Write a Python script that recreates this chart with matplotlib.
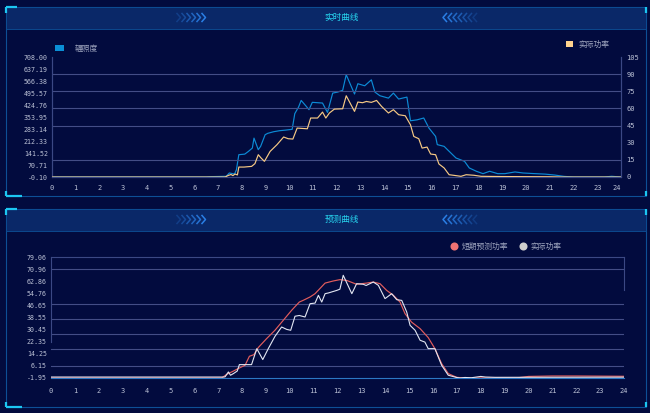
import matplotlib
matplotlib.use('Agg')
import matplotlib.pyplot as plt
from matplotlib.patches import Rectangle, Patch
from matplotlib.lines import Line2D

plt.rcParams['font.family'] = ['Noto Sans CJK SC', 'DejaVu Sans']

# ---------------- data ----------------
hours = list(range(25))

irr_t = [0, 6.5, 6.7, 7.35, 7.48, 7.7, 7.78, 7.88, 8.13, 8.28,
         8.45, 8.52, 8.7, 8.8, 8.99, 9.1, 9.35, 9.6, 9.85, 10.13,
         10.24, 10.4, 10.51, 10.7, 10.84, 10.98, 11.41, 11.62, 11.84, 12.05,
         12.26, 12.41, 12.76, 12.9, 13.19, 13.47, 13.62, 13.83, 14.19, 14.4,
         14.62, 14.97, 15.12, 15.4, 15.68, 15.9, 16.18, 16.25, 16.54, 16.68,
         17.04, 17.4, 17.6, 17.9, 18.18, 18.46, 18.8, 19.1, 19.53, 19.87,
         20.3, 20.8, 21.2, 21.6, 22.0, 23.3, 23.6, 23.8, 24.0]
irr_v = [0, 0, 2.0, 4.0, 23.6, 17.5, 43.2, 131.5, 134.9, 150.4,
         170.6, 229.3, 161.2, 180.7, 249.5, 257.6, 267.1, 273.1, 276.5, 281.2,
         373.6, 412.7, 451.8, 420.8, 397.2, 440.4, 436.3, 381.0, 495.0, 501.1,
         511.2, 603.6, 489.6, 550.3, 538.2, 573.2, 501.1, 479.5, 465.3, 495.0,
         459.9, 471.4, 331.8, 337.2, 348.0, 288.6, 239.4, 190.9, 180.7, 161.2,
         112.0, 92.4, 53.3, 33.7, 19.6, 33.7, 19.6, 19.6, 29.7, 23.6,
         20.2, 16.9, 11.5, 3.4, 0, 0, 4.0, 2.0, 0]

pow_t = [0, 7.3, 7.42, 7.55, 7.63, 7.72, 7.82, 7.88, 8.1, 8.42,
         8.56, 8.7, 8.82, 8.96, 9.2, 9.49, 9.77, 9.96, 10.16, 10.34,
         10.77, 10.91, 11.2, 11.41, 11.55, 11.7, 11.91, 12.26, 12.41, 12.76,
         12.9, 13.1, 13.26, 13.47, 13.69, 13.9, 14.19, 14.4, 14.62, 14.9,
         15.12, 15.26, 15.47, 15.61, 15.82, 15.97, 16.18, 16.32, 16.54, 16.75,
         17.04, 17.25, 17.47, 17.8, 18.1, 19.0, 20.0, 21.0, 21.5, 24.0]
pow_v = [0, 0, 1.2, 2.2, 1.2, 2.6, 1.8, 8.7, 8.7, 9.3,
         11.7, 19.5, 16.6, 13.7, 22.4, 28.3, 35.0, 33.5, 33.2, 42.8,
         42.2, 51.6, 51.6, 56.8, 51.6, 56.0, 59.4, 59.7, 71.1, 57.4,
         65.6, 65.0, 66.1, 65.3, 67.0, 61.8, 56.0, 58.9, 54.5, 53.6,
         45.7, 35.5, 33.5, 25.3, 26.2, 20.1, 19.5, 11.4, 7.9, 2.0,
         1.2, 0.6, 2.0, 1.5, 0.6, 0.4, 0.3, 0.2, 0, 0]

pred_t = [0, 7.15, 7.36, 7.64, 7.92, 8.13, 8.31, 8.5, 8.68, 9.03,
          9.38, 9.73, 10.08, 10.4, 10.57, 10.85, 11.06, 11.48, 11.82, 12.1,
          12.38, 12.8, 13.22, 13.5, 13.78, 14.06, 14.34, 14.62, 14.83, 15.1,
          15.46, 15.8, 16.08, 16.36, 16.64, 16.99, 17.3, 19.5, 20.0, 21.0,
          22.0, 23.0, 24.0]
pred_v = [-1.9, -1.9, 0.5, 2.7, 5.0, 6.6, 12.6, 13.7, 18.4, 24.4,
          30.0, 36.7, 43.4, 48.9, 50.1, 52.3, 54.5, 61.6, 63.0, 63.9,
          63.4, 60.8, 61.6, 62.3, 61.2, 56.7, 53.4, 48.9, 41.1, 35.5,
          31.1, 25.1, 17.7, 7.7, 1.0, -1.5, -1.9, -1.9, -0.9, -0.6,
          -0.6, -0.7, -0.8]

act_t = [0, 7.2, 7.29, 7.43, 7.52, 7.64, 7.8, 7.89, 8.4, 8.62,
         8.87, 9.1, 9.38, 9.66, 9.87, 10.04, 10.22, 10.4, 10.64, 10.85,
         11.06, 11.2, 11.34, 11.48, 11.62, 11.97, 12.1, 12.24, 12.6, 12.8,
         13.08, 13.2, 13.5, 13.71, 13.99, 14.27, 14.48, 14.69, 14.9, 15.04,
         15.25, 15.46, 15.66, 15.8, 16.08, 16.36, 16.64, 16.99, 17.13, 17.34,
         17.6, 18.0, 18.2, 18.6, 24.0]
act_v = [-1.3, -1.3, -1.2, 2.1, -0.1, 1.0, 2.7, 7.0, 7.0, 17.7,
         10.4, 17.7, 25.9, 32.2, 30.6, 30.0, 39.4, 39.9, 38.9, 47.8,
         48.2, 53.4, 48.9, 54.5, 55.0, 56.7, 57.5, 66.8, 54.5, 61.2,
         60.8, 60.0, 62.3, 60.1, 51.2, 54.5, 50.5, 50.0, 42.2, 33.3,
         30.0, 23.3, 22.1, 17.7, 17.7, 6.6, -0.1, -1.6, -1.95, -1.6,
         -1.8, -0.9, -1.3, -1.5, -1.4]

irr_ticks = [-0.10, 70.71, 141.52, 212.33, 283.14, 353.95, 424.76, 495.57, 566.38, 637.19, 708.00]
pow_ticks = [0, 15, 30, 45, 60, 75, 90, 105]
fc_ticks = [-1.95, 6.15, 14.25, 22.35, 30.45, 38.55, 46.65, 54.76, 62.86, 70.96, 79.06]

top_title = '实时曲线'
bot_title = '预测曲线'
irr_label = '辐照度'
pow_label = '实际功率'
pred_label = '短期预测功率'
act_label = '实际功率'

# ---------------- style ----------------
W, H = 650, 413
BG = '#020b3e'
BAR = '#0a2868'
FRAME = '#0d4f96'
ACCENT = '#1cc6f2'
GRID = '#434d86'
TICKC = '#bcc2d6'
LEGC = '#a0a7c0'
MONO = 'DejaVu Sans Mono'

fig = plt.figure(figsize=(6.5, 4.13), dpi=100)
fig.patch.set_facecolor(BG)

bg = fig.add_axes([0, 0, 1, 1])
bg.set_xlim(0, W)
bg.set_ylim(H, 0)
bg.axis('off')
bg.set_zorder(0)


def panel(y0, y1, title):
    bg.add_patch(Rectangle((6, y0), 640, y1 - y0, fill=False, ec=FRAME, lw=0.8))
    bg.add_patch(Rectangle((6, y0), 640, 21.5, fc=BAR, ec=FRAME, lw=0.6))
    kw = dict(color=ACCENT, lw=1.6, solid_capstyle='butt')
    bg.plot([6, 17], [y0, y0], **kw)
    bg.plot([6, 6], [y0, y0 + 6], **kw)
    bg.plot([646, 646], [y0, y0 + 6], **kw)
    bg.plot([6, 22], [y1, y1], **kw)
    bg.plot([6, 6], [y1 - 5, y1], **kw)
    bg.plot([646, 646], [y1 - 5, y1], **kw)
    yc = y0 + 10.5
    bg.text(342, yc, title, color='#27d6f0', fontsize=6.2, ha='center', va='center')
    for i in range(6):
        x = 177 + 5 * i
        bg.plot([x, x + 3.5, x], [yc - 4, yc, yc + 4], color='#2a7fe6',
                lw=1.1, alpha=0.25 + 0.15 * i)
    for i in range(7):
        x = 443 + 5 * i
        bg.plot([x + 3.5, x, x + 3.5], [yc - 4, yc, yc + 4], color='#2a7fe6',
                lw=1.1, alpha=1.0 - 0.13 * i)


panel(7, 196, top_title)
panel(209, 407, bot_title)

# ---------------- top chart ----------------
ax1 = fig.add_axes([52 / W, 1 - 177 / H, (621 - 52) / W, 120 / H])
ax1.set_facecolor('none')
ax1.set_zorder(2)
ax1r = ax1.twinx()
ax1r.set_zorder(3)
ax1r.set_facecolor('none')

ax1.set_xlim(0, 24)
ax1.set_ylim(irr_ticks[0], irr_ticks[-1])
ax1r.set_ylim(pow_ticks[0], pow_ticks[-1])

for v in [15, 45, 60, 75, 90]:
    ax1r.axhline(v, color=GRID, lw=0.8, zorder=0)

ax1.plot(irr_t, irr_v, color='#0c8bd6', lw=0.85, zorder=3)
ax1r.plot(pow_t, pow_v, color='#f6c984', lw=0.85, zorder=3)

ax1.set_xticks(hours, labels=[str(h) for h in hours])
ax1.set_yticks(irr_ticks, labels=[f'{v:.2f}' for v in irr_ticks])
ax1r.set_yticks(pow_ticks, labels=[str(v) for v in pow_ticks])

for a in (ax1, ax1r):
    for s in a.spines.values():
        s.set_color('#3b4884')
        s.set_linewidth(0.8)
    a.spines['top'].set_visible(False)
    a.tick_params(length=0, colors=TICKC)
ax1.tick_params(axis='x', pad=6, labelsize=5)
ax1.tick_params(axis='y', pad=3, labelsize=4.8)
ax1r.tick_params(axis='y', pad=4, labelsize=5)
for lab in ax1.get_xticklabels() + ax1.get_yticklabels() + ax1r.get_yticklabels():
    lab.set_fontfamily(MONO)
ax1.get_xticklabels()[-1].set_horizontalalignment('right')

ax1.legend(handles=[Patch(fc='#0a8fd6', ec='none', label=irr_label)],
           loc='center left', bbox_to_anchor=(55 / W, 1 - 49 / H),
           bbox_transform=fig.transFigure, frameon=False, fontsize=5.6,
           handlelength=1.1, handleheight=0.8, handletextpad=1.5,
           borderpad=0, borderaxespad=0, labelcolor=LEGC)
ax1r.legend(handles=[Patch(fc='#ffd38e', ec='none', label=pow_label)],
            loc='center left', bbox_to_anchor=(566 / W, 1 - 45 / H),
            bbox_transform=fig.transFigure, frameon=False, fontsize=5.6,
            handlelength=0.95, handleheight=0.8, handletextpad=0.6,
            borderpad=0, borderaxespad=0, labelcolor=LEGC)

# ---------------- bottom chart ----------------
ax2 = fig.add_axes([51 / W, 1 - 378 / H, 573 / W, 121 / H])
ax2.set_facecolor('none')
ax2.set_zorder(2)
ax2.set_xlim(0, 24)
ax2.set_ylim(fc_ticks[0], fc_ticks[-1])

for v in [70.96, 47.85, 37.81, 27.77, 17.73, 6.15]:
    ax2.axhline(v, color=GRID, lw=0.8, zorder=0)

ax2.plot(pred_t, pred_v, color='#e35d5d', lw=0.85, zorder=3)
ax2.plot(act_t, act_v, color='#e2e6f2', lw=0.8, zorder=4)

ax2.set_xticks(hours, labels=[str(h) for h in hours])
ax2.set_yticks(fc_ticks, labels=[f'{v:.2f}' for v in fc_ticks])
for s in ax2.spines.values():
    s.set_color('#3b4884')
    s.set_linewidth(0.8)
ax2.spines['bottom'].set_color('#2c78c4')
ax2.spines['left'].set_bounds(22.35, 79.06)
ax2.spines['right'].set_bounds(56.7, 79.06)
ax2.tick_params(length=0, colors=TICKC)
ax2.tick_params(axis='x', pad=7, labelsize=5)
ax2.tick_params(axis='y', pad=3, labelsize=4.8)
for lab in ax2.get_xticklabels() + ax2.get_yticklabels():
    lab.set_fontfamily(MONO)

h_pred = Line2D([], [], ls='none', marker='o', ms=5.8, mfc='#f07373', mec='none', label=pred_label)
h_act = Line2D([], [], ls='none', marker='o', ms=5.8, mfc='#cfcfcf', mec='none', label=act_label)
ax2.legend(handles=[h_pred, h_act], loc='center left', ncol=2,
           bbox_to_anchor=(451 / W, 1 - 246.5 / H), bbox_transform=fig.transFigure,
           frameon=False, fontsize=5.6, handlelength=0.8, handletextpad=0.6,
           columnspacing=1.5, borderpad=0, borderaxespad=0, labelcolor=LEGC)

fig.savefig('out.png', dpi=100, facecolor=BG)
